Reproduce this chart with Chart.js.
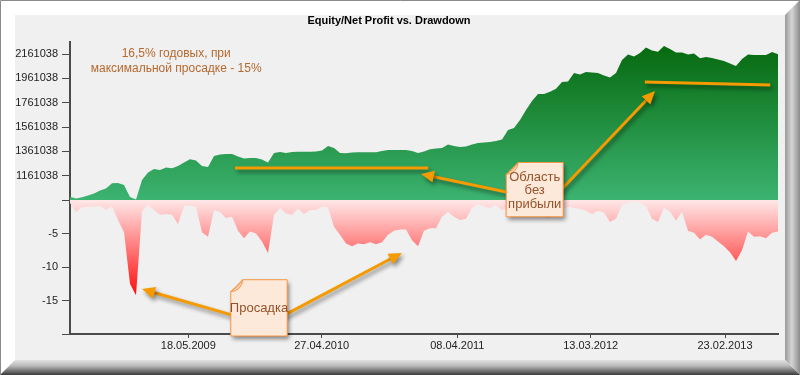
<!DOCTYPE html>
<html>
<head>
<meta charset="utf-8">
<script src="https://cdn.jsdelivr.net/npm/chart.js@4.4.0/dist/chart.umd.min.js"></script>
<style>
  html, body { margin: 0; padding: 0; background: #fff; }
  #wrap { position: relative; width: 800px; height: 375px; }
</style>
</head>
<body>
<div id="wrap"><canvas id="chart"></canvas></div>
<script>
// x axis: bar index, date labels sit on a few bars
const dateLabels = ['18.05.2009', '27.04.2010', '08.04.2011', '13.03.2012', '23.02.2013'];
const dateTickIndex = [19.72, 41.95, 64.55, 86.78, 109.17];

const equityTicks = [961038, 1161038, 1361038, 1561038, 1761038, 1961038, 2161038];
const drawdownTicks = [0, -5, -10, -15, -20];

const equity = [
  988000, 973000, 983000, 998000, 1014500, 1039000, 1055700, 1098400, 1100900, 1084500,
  985700, 965200, 1125600, 1187300, 1216100, 1207900, 1228400, 1221900, 1240800, 1269600,
  1295900, 1286000, 1240800, 1232600, 1323100, 1335400, 1339500, 1339500, 1319000, 1302500,
  1306600, 1306600, 1294300, 1269600, 1347800, 1356000, 1347800, 1356000, 1358500, 1358500,
  1358500, 1360100, 1368300, 1405300, 1388900, 1347800, 1345300, 1351900, 1353500, 1353500,
  1353500, 1353500, 1364200, 1372400, 1372400, 1372400, 1372400, 1364200, 1347800, 1360100,
  1378200, 1384800, 1388900, 1417700, 1405300, 1397100, 1401200, 1417700, 1430000, 1434100,
  1438300, 1446500, 1458800, 1537000, 1553500, 1619300, 1701600, 1775600, 1833200, 1833200,
  1852100, 1876800, 1931900, 1936100, 2006000, 1993700, 2014200, 2010100, 2006000, 1985400,
  1969000, 2006000, 2113000, 2158200, 2141800, 2170600, 2215800, 2191100, 2181300, 2228200,
  2203500, 2174700, 2174700, 2158200, 2166400, 2126900, 2137600, 2129400, 2117100, 2104700,
  2084200, 2063600, 2121200, 2158200, 2154100, 2154100, 2154100, 2178800, 2159900,
];

const drawdown = [
  -0.45, -1.8, -1.1, -1.0, -1.0, -0.9, -1.5, -0.95, -3.0, -4.8,
  -12.5, -14.2, -1.7, -0.75, -1.5, -2.2, -2.1, -2.2, -3.6, -0.9,
  -0.8, -1.1, -4.8, -5.5, -1.5, -1.8, -2.7, -2.5, -4.6, -5.7,
  -4.7, -5.0, -6.2, -7.9, -2.2, -1.2, -2.0, -2.2, -1.3, -2.1,
  -1.5, -1.5, -1.0, -1.1, -4.0, -5.2, -6.5, -6.9, -6.5, -6.6,
  -6.3, -6.6, -6.3, -5.2, -4.6, -4.4, -4.4, -6.0, -6.9, -4.6,
  -4.2, -4.2, -2.5, -1.8, -2.5, -3.0, -2.8, -1.2, -0.6, -1.0,
  -1.2, -0.75, -1.5, -1.2, -1.0, -0.9, -1.5, -1.8, -2.1, -2.5,
  -2.7, -1.6, -1.3, -1.0, -1.2, -1.3, -1.6, -2.1, -1.6, -1.9,
  -3.3, -2.8, -0.75, -0.45, -0.2, -0.45, -0.9, -2.8, -3.3, -1.2,
  -1.7, -3.1, -1.8, -4.6, -4.9, -5.9, -5.2, -5.5, -6.2, -6.9,
  -7.8, -9.1, -7.5, -4.7, -5.5, -5.4, -5.7, -4.9, -4.7,
];

// callouts, placed in data units: [bar index, value, axis]
const growthNote = ['16,5% годовых, при', 'максимальной просадке - 15%'];
const growthNoteAt = [17.7, 2162000, 'y'];
const flatNote = ['Область', 'без', 'прибыли'];
const flatBox = [[72.7, 1269600, 'y'], [82.2, -2.5, 'y2']];
const flatLines = [
  [[27.5, 1224000, 'y'], [59.7, 1224000, 'y']],
  [[95.8, 1932000, 'y'], [116.7, 1907000, 'y']],
];
const flatArrows = [
  [[73.5, 1018600, 'y'], [58.5, 1175000, 'y']],
  [[81.5, 1026900, 'y'], [97.5, 1857900, 'y']],
];
const ddNote = ['Просадка'];
const ddBox = [[26.8, -11.9, 'y2'], [36.2, -20.3, 'y2']];
const ddArrows = [
  [[27.5, -17.3, 'y2'], [12, -13.3, 'y2']],
  [[35.5, -17.3, 'y2'], [55.3, -7.9, 'y2']],
];

Chart.defaults.font.family = '"Liberation Sans", Arial, sans-serif';

const ORANGE = '#f59a00';

const toPx = (chart, p) => [chart.scales.x.getPixelForValue(p[0]), chart.scales[p[2]].getPixelForValue(p[1])];

const withShadow = (ctx) => {
  ctx.shadowColor = 'rgba(0,0,0,0.45)';
  ctx.shadowBlur = 4;
  ctx.shadowOffsetX = 2;
  ctx.shadowOffsetY = 3;
};

const drawArrow = (ctx, a, b) => {
  const ang = Math.atan2(b[1] - a[1], b[0] - a[0]);
  const head = 13;
  const half = 6;
  const bx = b[0] - head * Math.cos(ang);
  const by = b[1] - head * Math.sin(ang);
  ctx.beginPath();
  ctx.moveTo(a[0], a[1]);
  ctx.lineTo(bx, by);
  ctx.stroke();
  ctx.beginPath();
  ctx.moveTo(b[0], b[1]);
  ctx.lineTo(bx + half * Math.sin(ang), by - half * Math.cos(ang));
  ctx.lineTo(bx - half * Math.sin(ang), by + half * Math.cos(ang));
  ctx.closePath();
  ctx.fill();
};

const drawNote = (ctx, tl, br, lines) => {
  const [l, t] = tl;
  const [r, b] = br;
  const f = 12;
  ctx.save();
  withShadow(ctx);
  ctx.beginPath();
  ctx.moveTo(l, t + f);
  ctx.lineTo(l + f, t);
  ctx.lineTo(r, t);
  ctx.lineTo(r, b);
  ctx.lineTo(l, b);
  ctx.closePath();
  ctx.fillStyle = '#fde9d9';
  ctx.fill();
  ctx.restore();
  ctx.save();
  ctx.strokeStyle = '#f79646';
  ctx.lineWidth = 1;
  ctx.stroke();
  // folded corner
  ctx.beginPath();
  ctx.moveTo(l, t + f);
  ctx.quadraticCurveTo(l + f * 0.6, t + f * 0.6, l + f, t);
  ctx.quadraticCurveTo(l + f * 0.9, t + f * 0.9, l, t + f);
  ctx.fillStyle = '#f8d2b8';
  ctx.fill();
  ctx.stroke();
  ctx.fillStyle = '#94522a';
  ctx.font = '13px "Liberation Sans", Arial, sans-serif';
  ctx.textAlign = 'center';
  ctx.textBaseline = 'middle';
  const cx = (l + r) / 2;
  const cy = (t + b) / 2 + 1;
  const lh = 13.5;
  lines.forEach((s, i) => {
    ctx.fillText(s, cx, cy + (i - (lines.length - 1) / 2) * lh);
  });
  ctx.restore();
};

const framePlugin = {
  id: 'frame',
  beforeDraw(chart) {
    const { ctx, width, height } = chart;
    const b = 15;
    ctx.save();
    ctx.fillStyle = '#fff';
    ctx.fillRect(0, 0, width, height);
    ctx.fillStyle = '#f0f0f0';
    ctx.fillRect(b, b, width - 2 * b, height - 2 * b);

    let g = ctx.createLinearGradient(width - b, 0, width, 0);
    g.addColorStop(0, '#9a9a9a');
    g.addColorStop(0.45, '#d4d4d4');
    g.addColorStop(1, '#8c8c8c');
    ctx.fillStyle = g;
    ctx.beginPath();
    ctx.moveTo(width - b, b);
    ctx.lineTo(width, 0);
    ctx.lineTo(width, height);
    ctx.lineTo(width - b, height - b);
    ctx.closePath();
    ctx.fill();

    g = ctx.createLinearGradient(0, height - b, 0, height);
    g.addColorStop(0, '#e2e2e2');
    g.addColorStop(0.4, '#b8b8b8');
    g.addColorStop(1, '#3a3a3a');
    ctx.fillStyle = g;
    ctx.beginPath();
    ctx.moveTo(b, height - b);
    ctx.lineTo(width - b, height - b);
    ctx.lineTo(width, height);
    ctx.lineTo(0, height);
    ctx.closePath();
    ctx.fill();

    ctx.strokeStyle = '#8a8a8a';
    ctx.lineWidth = 1;
    ctx.beginPath();
    ctx.moveTo(0.5, height);
    ctx.lineTo(0.5, 0.5);
    ctx.lineTo(width, 0.5);
    ctx.stroke();
    ctx.restore();
  },
};

const calloutPlugin = {
  id: 'callouts',
  afterDraw(chart) {
    const { ctx } = chart;
    ctx.save();

    const [tx, ty] = toPx(chart, growthNoteAt);
    ctx.fillStyle = '#b5692f';
    ctx.font = '12px "Liberation Sans", Arial, sans-serif';
    ctx.textAlign = 'center';
    ctx.textBaseline = 'middle';
    growthNote.forEach((s, i) => ctx.fillText(s, tx, ty + i * 15));

    ctx.save();
    withShadow(ctx);
    ctx.strokeStyle = ORANGE;
    ctx.fillStyle = ORANGE;
    ctx.lineWidth = 3;
    flatLines.forEach(([a, b]) => {
      const p = toPx(chart, a);
      const q = toPx(chart, b);
      ctx.beginPath();
      ctx.moveTo(p[0], p[1]);
      ctx.lineTo(q[0], q[1]);
      ctx.stroke();
    });
    [...flatArrows, ...ddArrows].forEach(([a, b]) => drawArrow(ctx, toPx(chart, a), toPx(chart, b)));
    ctx.restore();

    drawNote(ctx, toPx(chart, flatBox[0]), toPx(chart, flatBox[1]), flatNote);
    drawNote(ctx, toPx(chart, ddBox[0]), toPx(chart, ddBox[1]), ddNote);
    ctx.restore();
  },
};

const axisGrid = { drawOnChartArea: false, tickLength: 8, color: '#4a4a4a', lineWidth: 1 };
const axisBorder = { color: '#4a4a4a', width: 2 };
const tickFont = { size: 11 };

const verticalGradient = (chart, y0, y1, c0, c1, fallback) => {
  if (!chart.chartArea || !Number.isFinite(y0) || !Number.isFinite(y1) || y0 === y1) return fallback;
  const g = chart.ctx.createLinearGradient(0, y0, 0, y1);
  g.addColorStop(0, c0);
  g.addColorStop(1, c1);
  return g;
};

const equityFill = (context) => {
  const { chart } = context;
  const s = chart.scales.y;
  if (!s) return '#2e9e50';
  return verticalGradient(chart, s.top, s.bottom, '#05680c', '#3cb371', '#2e9e50');
};

const drawdownFill = (context) => {
  const { chart } = context;
  const s = chart.scales.y2;
  if (!s) return '#ff9090';
  return verticalGradient(chart, s.top, s.getPixelForValue(-15), '#ffe8e8', '#ff0000', '#ff9090');
};

new Chart(document.getElementById('chart'), {
  type: 'line',
  data: {
    datasets: [
      {
        label: 'Equity',
        data: equity.map((v, i) => ({ x: i, y: v })),
        yAxisID: 'y',
        fill: 'start',
        backgroundColor: equityFill,
        borderColor: 'rgba(0,0,0,0)',
        borderWidth: 0,
        pointRadius: 0,
        tension: 0,
      },
      {
        label: 'Drawdown',
        data: drawdown.map((v, i) => ({ x: i, y: v })),
        yAxisID: 'y2',
        fill: 'origin',
        backgroundColor: drawdownFill,
        borderColor: 'rgba(0,0,0,0)',
        borderWidth: 0,
        pointRadius: 0,
        tension: 0,
      },
    ],
  },
  options: {
    responsive: true,
    maintainAspectRatio: false,
    animation: false,
    layout: { padding: { left: 0, right: 22, top: 0, bottom: 21 } },
    plugins: {
      legend: { display: false },
      tooltip: { enabled: false },
      title: {
        display: true,
        text: 'Equity/Net Profit vs. Drawdown',
        color: '#000',
        font: { size: 11, weight: 'bold' },
        padding: { top: 14, bottom: 14.8 },
      },
    },
    scales: {
      x: {
        type: 'linear',
        min: 0,
        max: equity.length - 1,
        afterBuildTicks: (s) => { s.ticks = dateTickIndex.map((v) => ({ value: v })); },
        afterFit: (s) => { s.height = 20; },
        ticks: {
          autoSkip: false,
          maxRotation: 0,
          padding: 1,
          color: '#222',
          font: tickFont,
          callback: (v, i) => dateLabels[i],
        },
        grid: { ...axisGrid, tickLength: 4 },
        border: axisBorder,
      },
      y: {
        type: 'linear',
        position: 'left',
        stack: 'panes',
        stackWeight: 158,
        weight: 2,
        min: equityTicks[0],
        max: 2261038,
        afterBuildTicks: (s) => { s.ticks = equityTicks.map((v) => ({ value: v })); },
        afterFit: (s) => { s.width = 70; },
        ticks: {
          autoSkip: false,
          padding: 4,
          color: '#222',
          font: tickFont,
          callback: (v) => (v === equityTicks[0] ? '' : String(v)),
        },
        grid: axisGrid,
        border: axisBorder,
      },
      y2: {
        type: 'linear',
        position: 'left',
        stack: 'panes',
        stackWeight: 134,
        weight: 1,
        min: -20,
        max: 0,
        afterBuildTicks: (s) => { s.ticks = drawdownTicks.map((v) => ({ value: v })); },
        afterFit: (s) => { s.width = 70; },
        ticks: {
          autoSkip: false,
          padding: 4,
          color: '#222',
          font: tickFont,
          callback: (v) => (v === 0 || v === -20 ? '' : String(v)),
        },
        grid: axisGrid,
        border: axisBorder,
      },
    },
  },
  plugins: [framePlugin, calloutPlugin],
});
</script>
</body>
</html>
